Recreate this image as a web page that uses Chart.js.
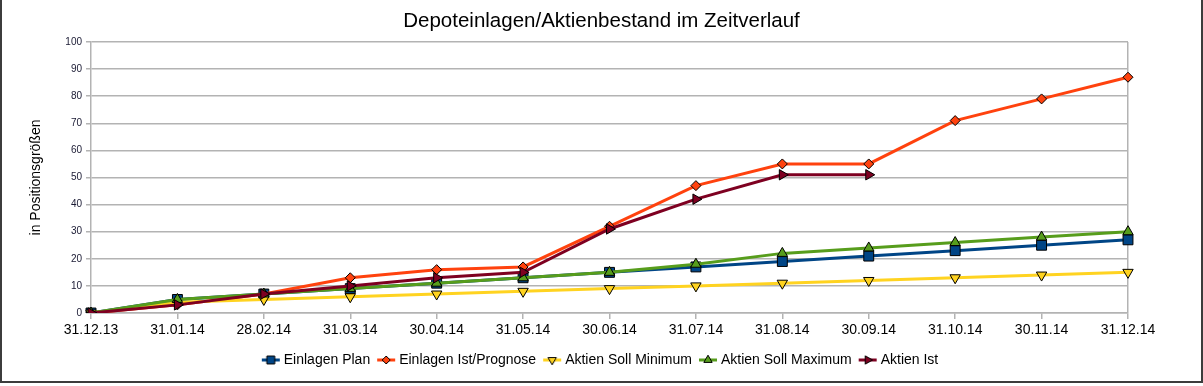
<!DOCTYPE html>
<html>
<head>
<meta charset="utf-8">
<script src="https://cdn.jsdelivr.net/npm/chart.js@4"></script>
<style>
  html, body { margin: 0; padding: 0; background: #fff; }
  #wrap { position: relative; width: 1203px; height: 386px; overflow: hidden; }
  #chart { position: absolute; left: 0; top: 0; }
  #frame {
    position: absolute; left: 0; top: 0; width: 1199px; height: 381px;
    border-left: 2px solid #3c3c3c; border-right: 2px solid #3c3c3c; border-bottom: 2px solid #3c3c3c;
    pointer-events: none;
  }
</style>
</head>
<body>
<div id="wrap">
  <canvas id="chart" width="1203" height="386"></canvas>
  <div id="frame"></div>
</div>
<script>
  // ── data ──
  var labels = ["31.12.13", "31.01.14", "28.02.14", "31.03.14", "30.04.14", "31.05.14", "30.06.14",
                "31.07.14", "31.08.14", "30.09.14", "31.10.14", "30.11.14", "31.12.14"];
  var einlagenPlan = [0, 5, 7, 9, 11, 13, 15, 17, 19, 21, 23, 25, 27];
  var einlagenIst = [0, 3, 7, 13, 16, 17, 32, 47, 55, 55, 71, 79, 87];
  var sollMinimum = [0, 4, 5, 6, 7, 8, 9, 10, 11, 12, 13, 14, 15];
  var sollMaximum = [0, 5, 7, 9, 11, 13, 15, 18, 22, 24, 26, 28, 30];
  var aktienIst = [0, 3, 7, 10, 13, 15, 31, 42, 51, 51, null, null, null];
  var yTicks = [0, 10, 20, 30, 40, 50, 60, 70, 80, 90, 100];

  var GRID = "#b3b3b3";
  var FONT = "'Liberation Sans', Arial, sans-serif";

  /* small line+marker swatch for the legend */
  function swatch(color, style, rot, r) {
    var c = document.createElement("canvas");
    c.width = 20; c.height = 12;
    var ctx = c.getContext("2d");
    ctx.strokeStyle = color; ctx.lineWidth = 3;
    ctx.beginPath(); ctx.moveTo(1, 6); ctx.lineTo(19, 6); ctx.stroke();
    ctx.fillStyle = color; ctx.strokeStyle = "#000"; ctx.lineWidth = 1;
    Chart.helpers.drawPoint(ctx, { pointStyle: style, rotation: rot, radius: r, borderWidth: 1 }, 10, 6);
    return c;
  }

  function series(label, data, color, style, rot, r, order) {
    return {
      label: label, data: data, order: order,
      borderColor: color, backgroundColor: color, borderWidth: 3,
      pointStyle: style, rotation: rot, pointRadius: r, pointHoverRadius: r,
      pointBorderColor: "#000", pointBorderWidth: 1, pointBackgroundColor: color,
      tension: 0, spanGaps: false,
      legendSwatch: swatch(color, style, rot, r * 0.8)
    };
  }

  var datasets = [
    series("Einlagen Plan", einlagenPlan, "#004586", "rect", 0, 7, 5),
    series("Einlagen Ist/Prognose", einlagenIst, "#ff420e", "rectRot", 0, 5, 4),
    series("Aktien Soll Minimum", sollMinimum, "#ffd320", "triangle", 180, 6, 3),
    series("Aktien Soll Maximum", sollMaximum, "#579d1c", "triangle", 0, 6, 2),
    series("Aktien Ist", aktienIst, "#7e0021", "triangle", 90, 6, 1)
  ];

  new Chart(document.getElementById("chart"), {
    type: "line",
    data: { labels: labels, datasets: datasets },
    options: {
      responsive: false,
      animation: false,
      layout: { padding: { left: 0, right: 0, top: 0, bottom: 9 } },
      plugins: {
        tooltip: { enabled: false },
        title: {
          display: true,
          text: "Depoteinlagen/Aktienbestand im Zeitverlauf",
          color: "#000",
          font: { family: FONT, size: 20.5, weight: "normal" },
          padding: { top: 9, bottom: 8.4 }
        },
        legend: {
          position: "bottom",
          labels: {
            color: "#000",
            font: { family: FONT, size: 14 },
            usePointStyle: true,
            pointStyleWidth: 12,
            padding: 10,
            sort: function (a, b) { return a.datasetIndex - b.datasetIndex; },
            generateLabels: function (chart) {
              var items = Chart.defaults.plugins.legend.labels.generateLabels(chart);
              items.forEach(function (it) {
                it.pointStyle = chart.data.datasets[it.datasetIndex].legendSwatch;
                it.rotation = 0;
              });
              return items;
            }
          }
        }
      },
      scales: {
        x: {
          type: "category",
          offset: false,
          afterFit: function (s) { s.height = 30; },
          grid: {
            drawOnChartArea: true,
            color: function (ctx) { return ctx.index === labels.length - 1 ? GRID : "rgba(0,0,0,0)"; },
            tickColor: GRID,
            tickLength: 6,
            lineWidth: 1.5
          },
          border: { display: true, color: GRID, width: 1.5 },
          ticks: {
            color: "#000",
            font: { family: FONT, size: 14 },
            padding: 3,
            maxRotation: 0,
            autoSkip: false
          }
        },
        y: {
          min: 0, max: 100,
          afterFit: function (s) { s.width = 91; },
          afterBuildTicks: function (s) { s.ticks = yTicks.map(function (v) { return { value: v }; }); },
          grid: { color: GRID, lineWidth: 1.5, tickLength: 5 },
          border: { display: true, color: GRID, width: 1.5 },
          title: {
            display: true,
            text: "in Positionsgrößen",
            color: "#000",
            font: { family: FONT, size: 14 },
            padding: { top: 28 }
          },
          ticks: {
            color: "#1a1a33",
            font: { family: FONT, size: 10 },
            padding: 4
          }
        },
        /* empty right-hand box that keeps the plot's right margin */
        yRight: {
          position: "right",
          min: 0, max: 100,
          afterFit: function (s) { s.width = 75; },
          grid: { display: false },
          border: { display: false },
          ticks: { display: false }
        }
      }
    }
  });
</script>
</body>
</html>
